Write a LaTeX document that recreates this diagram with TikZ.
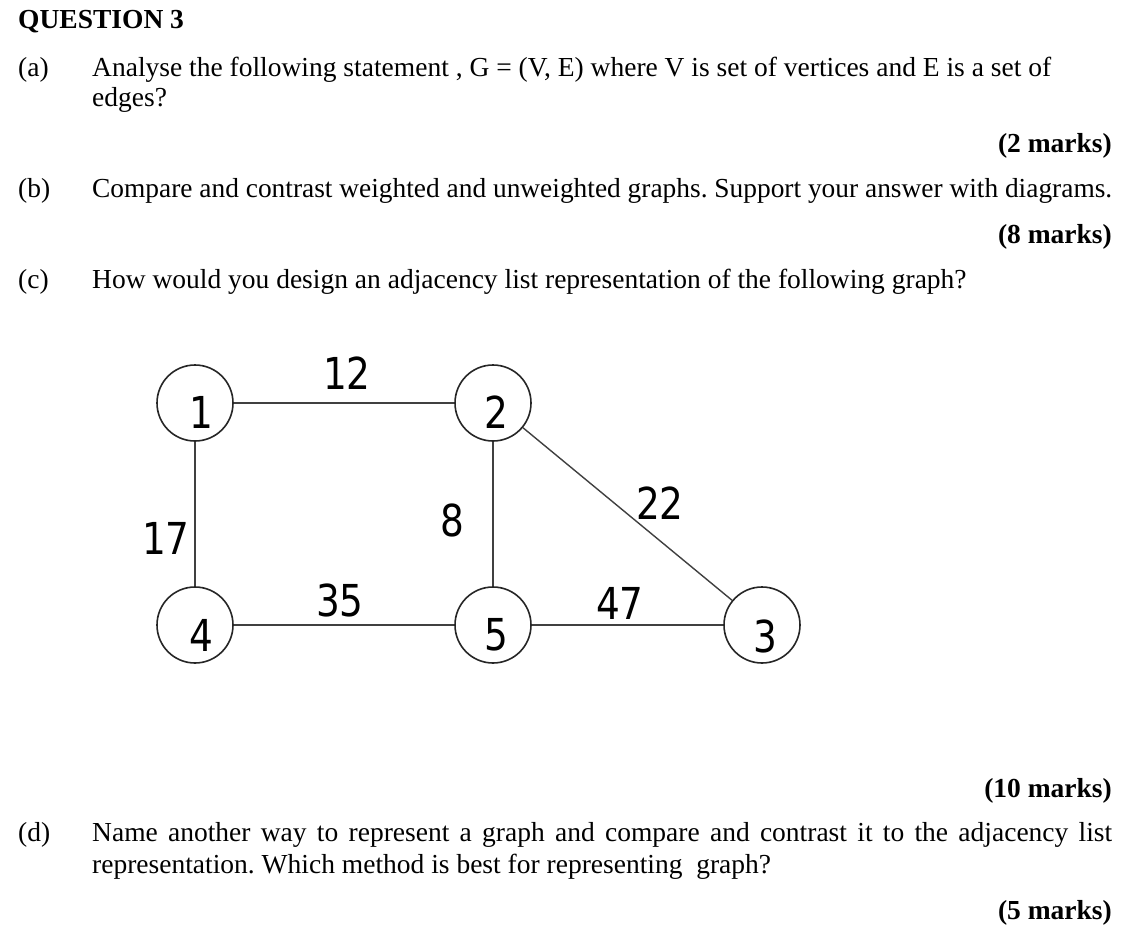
\documentclass[tikz,border=0pt]{standalone}
\usepackage{fontspec}
\setmainfont{Liberation Serif}
\newfontfamily\gfont{DejaVu Sans}
\newcommand{\gnum}[1]{\scalebox{0.85}[1]{\gfont\fontsize{44}{44}\selectfont #1}}
\begin{document}
\frenchspacing
\begin{tikzpicture}[x=1pt,y=-1pt,
  txt/.style={anchor=base west,inner sep=0pt,font=\fontsize{27.5}{30}\selectfont},
  mk/.style={anchor=base east,inner sep=0pt,font=\fontsize{27.5}{30}\selectfont\bfseries},
  vtx/.style={circle,draw=black!85,line width=1.6pt,minimum size=76pt,inner sep=0pt},
  vl/.style={inner sep=0pt},
  el/.style={inner sep=0pt},
  ed/.style={draw=black!75,line width=1.4pt}]
\useasboundingbox[fill=white] (0,0) rectangle (1136,937);
\node[txt,font=\fontsize{27.5}{30}\selectfont\bfseries] (q) at (18,28) {QUESTION 3};
\node[txt] (a) at (18,76) {(a)};
\node[txt] (at1) at (92,76) {Analyse the following statement , G = (V, E) where V is set of vertices and E is a set of};
\node[txt] (at2) at (92,106) {edges?};
\node[mk] (m2) at (1112,152) {(2 marks)};
\node[txt] (b) at (18,197) {(b)};
\node[txt] (bt) at (92,197) {\scalebox{0.996}[1]{Compare and contrast weighted and unweighted graphs. Support your answer with diagrams.}};
\node[mk] (m8) at (1112,243) {(8 marks)};
\node[txt] (c) at (18,288) {(c)};
\node[txt] (ct) at (92,288) {How would you design an adjacency list representation of the following graph?};
\node[mk] (m10) at (1112,797) {(10 marks)};
\node[txt] (d) at (18,841) {(d)};
\node[txt] (dt1) at (92,841) {\makebox[1020pt][s]{Name another way to represent a graph and compare and contrast it to the adjacency list}};
\node[txt] (dt2) at (92,873) {representation. Which method is best for representing\ \ graph?};
\node[mk] (m5) at (1112,919) {(5 marks)};
% graph
\node[vtx] (n1) at (195,403) {};
\node[vtx] (n2) at (493,403) {};
\node[vtx] (n4) at (195,625) {};
\node[vtx] (n5) at (493,625) {};
\node[vtx] (n3) at (762,625) {};
\node[vl] at (201,412) {\gnum{1}};
\node[vl] at (496,412) {\gnum{2}};
\node[vl] at (201,635) {\gnum{4}};
\node[vl] at (496,635) {\gnum{5}};
\node[vl] at (765,636) {\gnum{3}};
\draw[ed] (n1) -- (n2);
\draw[ed] (n1) -- (n4);
\draw[ed] (n2) -- (n5);
\draw[ed] (n4) -- (n5);
\draw[ed] (n5) -- (n3);
\draw[ed] (n2) -- (n3);
\node[el] (w12) at (347,373) {\gnum{12}};
\node[el] (w17) at (166,538) {\gnum{17}};
\node[el] (w8) at (452,520) {\gnum{8}};
\node[el] (w22) at (660,503) {\gnum{22}};
\node[el] (w35) at (340,600) {\gnum{35}};
\node[el] (w47) at (620,603) {\gnum{47}};
\end{tikzpicture}
\end{document}
